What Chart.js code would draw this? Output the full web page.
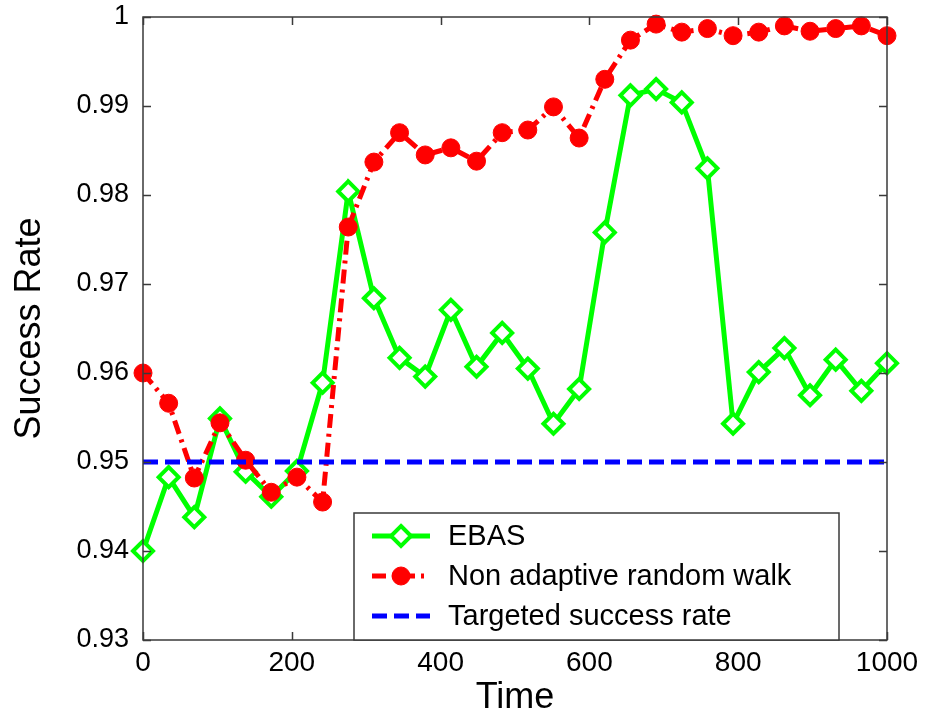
<!DOCTYPE html>
<html><head><meta charset="utf-8">
<script src="https://cdn.jsdelivr.net/npm/chart.js@4.4.1/dist/chart.umd.min.js"></script>
<style>html,body{margin:0;padding:0;background:#fff}#wrap{width:934px;height:728px}</style>
</head><body><div id="wrap"><canvas id="c" width="934" height="728"></canvas></div>
<script>
const timePoints = [0, 34.48, 68.97, 103.45, 137.93, 172.41, 206.90, 241.38, 275.86, 310.34,
  344.83, 379.31, 413.79, 448.28, 482.76, 517.24, 551.72, 586.21, 620.69, 655.17,
  689.66, 724.14, 758.62, 793.10, 827.59, 862.07, 896.55, 931.03, 965.52, 1000];
const ebas = [0.9400, 0.9483, 0.9438, 0.9549, 0.9489, 0.9461, 0.9490, 0.9589, 0.9804, 0.9684,
  0.9617, 0.9596, 0.9671, 0.9607, 0.9645, 0.9605, 0.9543, 0.9582, 0.9758, 0.9912,
  0.9919, 0.9904, 0.9830, 0.9543, 0.9601, 0.9628, 0.9575, 0.9615, 0.9580, 0.9611];
const randomWalk = [0.9600, 0.9566, 0.9482, 0.9544, 0.9502, 0.9466, 0.9483, 0.9455, 0.9764, 0.9837,
  0.9870, 0.9845, 0.9853, 0.9838, 0.9870, 0.9873, 0.9899, 0.9864, 0.9930, 0.9974,
  0.9992, 0.9983, 0.9987, 0.9979, 0.9983, 0.9990, 0.9984, 0.9987, 0.9990, 0.9979];
const targetTimes = [0, 1000];
const targetRate = [0.95, 0.95];
const xTicks = [0, 200, 400, 600, 800, 1000];
const yTicks = [0.93, 0.94, 0.95, 0.96, 0.97, 0.98, 0.99, 1];
const seriesNames = ['EBAS', 'Non adaptive random walk', 'Targeted success rate'];

const FONT = "'Liberation Sans', Arial, Helvetica, sans-serif";
const toXY = (xs, ys) => xs.map((x, i) => ({x: x, y: ys[i]}));

const framePlugin = {
  id: 'frame',
  afterDraw(chart) {
    const ctx = chart.ctx, a = chart.chartArea;
    const xs = chart.scales.x, ys = chart.scales.y;
    ctx.save();
    ctx.strokeStyle = '#3a3a3a';
    ctx.lineWidth = 1.5;
    ctx.strokeRect(a.left, a.top, a.right - a.left, a.bottom - a.top);
    const tl = 8;
    ctx.beginPath();
    xTicks.forEach(v => {
      const px = Math.round(xs.getPixelForValue(v)) + 0.5;
      ctx.moveTo(px, a.bottom); ctx.lineTo(px, a.bottom - tl);
      ctx.moveTo(px, a.top); ctx.lineTo(px, a.top + tl);
    });
    yTicks.forEach(v => {
      const py = Math.round(ys.getPixelForValue(v)) + 0.5;
      ctx.moveTo(a.left, py); ctx.lineTo(a.left + tl, py);
      ctx.moveTo(a.right, py); ctx.lineTo(a.right - tl, py);
    });
    ctx.stroke();

    // legend box
    const bx = 354, by = 513, bw = 485, bh = a.bottom - 513;
    ctx.fillStyle = '#fff';
    ctx.fillRect(bx, by, bw, bh);
    ctx.strokeRect(bx, by, bw, bh);
    const rows = [536, 576, 616];
    chart.data.datasets.forEach((ds, i) => {
      const y = rows[i];
      ctx.save();
      ctx.strokeStyle = ds.borderColor;
      ctx.lineWidth = ds.borderWidth;
      ctx.setLineDash(ds.borderDash || []);
      ctx.beginPath();
      ctx.moveTo(372, y); ctx.lineTo(430, y);
      ctx.stroke();
      ctx.restore();
      if (ds.pointRadius > 0) {
        ctx.save();
        ctx.setLineDash([]);
        ctx.fillStyle = ds.pointBackgroundColor;
        ctx.strokeStyle = ds.pointBorderColor;
        ctx.lineWidth = ds.pointBorderWidth;
        ctx.beginPath();
        if (ds.pointStyle === 'rectRot') {
          const r = ds.pointRadius;
          ctx.moveTo(401, y - r); ctx.lineTo(401 + r, y); ctx.lineTo(401, y + r); ctx.lineTo(401 - r, y); ctx.closePath();
        } else {
          ctx.arc(401, y, ds.pointRadius, 0, Math.PI * 2);
        }
        ctx.fill(); ctx.stroke();
        ctx.restore();
      }
      ctx.fillStyle = '#000';
      ctx.font = '29px ' + FONT;
      ctx.textBaseline = 'middle';
      ctx.textAlign = 'left';
      ctx.fillText(seriesNames[i], 448, y + 1);
    });
    ctx.restore();
  }
};

new Chart(document.getElementById('c'), {
  type: 'line',
  data: {
    datasets: [
      {
        label: seriesNames[0], data: toXY(timePoints, ebas),
        borderColor: '#00ff00', borderWidth: 5, pointStyle: 'rectRot', pointRadius: 10,
        pointBorderWidth: 4, pointBorderColor: '#00ff00', pointBackgroundColor: '#ffffff',
        fill: false, tension: 0, clip: false, order: 3
      },
      {
        label: seriesNames[1], data: toXY(timePoints, randomWalk),
        borderColor: '#ff0000', borderWidth: 5, borderDash: [14, 6, 3, 6], pointStyle: 'circle', pointRadius: 9,
        pointBorderWidth: 1, pointBorderColor: '#ff0000', pointBackgroundColor: '#ff0000',
        fill: false, tension: 0, clip: false, order: 2
      },
      {
        label: seriesNames[2], data: toXY(targetTimes, targetRate),
        borderColor: '#0000ff', borderWidth: 5, borderDash: [15, 7], pointRadius: 0,
        pointBorderWidth: 0, fill: false, tension: 0, clip: false, order: 1
      }
    ]
  },
  options: {
    responsive: false, animation: false, devicePixelRatio: 1,
    layout: {padding: {top: 17, right: 47, left: 0, bottom: 0}},
    plugins: {legend: {display: false}, tooltip: {enabled: false}},
    elements: {point: {hoverRadius: 10}},
    scales: {
      x: {
        type: 'linear', min: 0, max: 1000,
        afterBuildTicks: s => { s.ticks = xTicks.map(v => ({value: v})); },
        afterFit: s => { s.height = 88; s.paddingLeft = 0; s.paddingRight = 0; },
        grid: {display: false, drawTicks: false}, border: {display: false},
        ticks: {color: '#000', padding: 6, font: {size: 28, family: FONT}, maxRotation: 0,
          callback: v => String(v)},
        title: {display: true, text: 'Time', color: '#000', font: {size: 36, family: FONT}, padding: {top: 0, bottom: 8}}
      },
      y: {
        type: 'linear', min: 0.93, max: 1,
        afterBuildTicks: s => { s.ticks = yTicks.map(v => ({value: v})); },
        afterFit: s => { s.width = 143; s.paddingTop = 0; s.paddingBottom = 0; },
        grid: {display: false, drawTicks: false}, border: {display: false},
        ticks: {color: '#000', padding: 14, font: {size: 27, family: FONT},
          callback: v => String(+(+v).toFixed(2))},
        title: {display: true, text: 'Success Rate', color: '#000', font: {size: 36, family: FONT}, padding: {top: 8, bottom: 0}}
      }
    }
  },
  plugins: [framePlugin]
});
</script></body></html>
